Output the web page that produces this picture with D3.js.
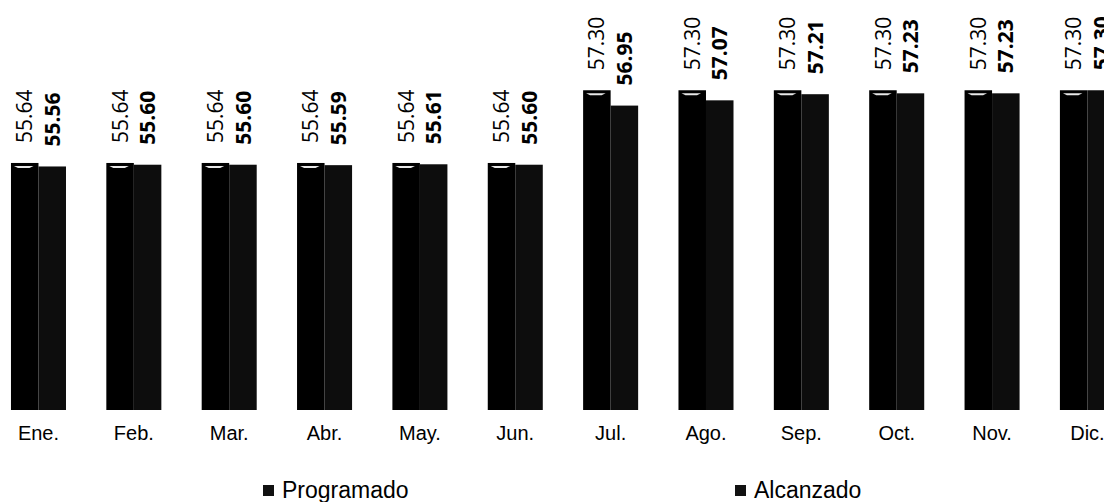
<!DOCTYPE html>
<html>
<head>
<meta charset="utf-8">
<title>Programado vs Alcanzado</title>
<script src="https://d3js.org/d3.v7.min.js"></script>
<style>
  html, body { margin: 0; padding: 0; background: #fff; }
  svg { display: block; }
</style>
</head>
<body>
<script>
// chart data
const months = ["Ene.", "Feb.", "Mar.", "Abr.", "May.", "Jun.", "Jul.", "Ago.", "Sep.", "Oct.", "Nov.", "Dic."];
const seriesNames = ["Programado", "Alcanzado"];
const programado = [55.64, 55.64, 55.64, 55.64, 55.64, 55.64, 57.30, 57.30, 57.30, 57.30, 57.30, 57.30];
const alcanzado = [55.56, 55.60, 55.60, 55.59, 55.61, 55.60, 56.95, 57.07, 57.21, 57.23, 57.23, 57.30];

const width = 1104, height = 502;
const rows = months.map((m, i) => ({ month: m, Programado: programado[i], Alcanzado: alcanzado[i] }));

const svg = d3.select("body").append("svg")
  .attr("width", width)
  .attr("height", height);

// scales
const x = d3.scaleBand()
  .domain(months)
  .range([-9.2, 1135.1])
  .paddingInner(0.423)
  .paddingOuter(0.2115);

const xs = d3.scaleBand()
  .domain(seriesNames)
  .range([0, x.bandwidth()]);

const y = d3.scaleLinear()
  .domain([50, 60])
  .range([410, -28]);

const fills = { Programado: "#000", Alcanzado: "#0d0d0d" };

const groups = svg.selectAll("g.month")
  .data(rows)
  .join("g")
  .attr("class", "month")
  .attr("transform", d => `translate(${x(d.month)},0)`);

// bars
groups.selectAll("rect")
  .data(d => seriesNames.map(s => ({ s, v: d[s] })))
  .join("rect")
  .attr("x", d => xs(d.s))
  .attr("y", d => y(d.v))
  .attr("width", xs.bandwidth())
  .attr("height", d => y(50) - y(d.v))
  .attr("fill", d => fills[d.s]);

// light streak at the top of the programado bars (scan look)
groups.append("path")
  .attr("d", d => {
    const x0 = xs("Programado") + 3, x1 = xs("Programado") + xs.bandwidth() - 5;
    const t = y(d.Programado) + 3;
    return `M${x0},${t} L${x1},${t} L${x1 - 4},${t + 2} L${x0 + 4},${t + 2} Z`;
  })
  .attr("fill", "#e8e8e8");

// value labels, rotated
groups.selectAll("text.val")
  .data(d => seriesNames.map(s => ({ s, v: d[s] })))
  .join("text")
  .attr("class", "val")
  .attr("transform", d => `translate(${xs(d.s) + xs.bandwidth() / 2},${y(d.v) - 20}) rotate(-90)`)
  .attr("dy", "0.36em")
  .attr("text-anchor", "start")
  .attr("font-family", "'Open Sans', sans-serif")
  .attr("font-size", 21)
  .attr("font-weight", d => d.s === "Alcanzado" ? "bold" : "normal")
  .attr("fill", "#000")
  .text(d => d.v.toFixed(2));

// month axis labels
const xAxis = svg.append("g")
  .attr("transform", `translate(0,${y(50)})`)
  .call(d3.axisBottom(x).tickSize(0).tickPadding(16));
xAxis.select(".domain").remove();
xAxis.selectAll("text")
  .attr("font-family", "'Liberation Sans', Arial, sans-serif")
  .attr("font-size", 20)
  .attr("fill", "#000");

// legend
const legendX = { Programado: 263, Alcanzado: 735 };
const legend = svg.selectAll("g.legend")
  .data(seriesNames)
  .join("g")
  .attr("class", "legend")
  .attr("transform", d => `translate(${legendX[d]},498)`);

legend.append("rect")
  .attr("x", 0)
  .attr("y", -13)
  .attr("width", 11)
  .attr("height", 11)
  .attr("fill", "#111");

legend.append("text")
  .attr("x", 19)
  .attr("y", 0)
  .attr("font-family", "'Liberation Sans', Arial, sans-serif")
  .attr("font-size", 23)
  .attr("fill", "#000")
  .text(d => d);
</script>
</body>
</html>
